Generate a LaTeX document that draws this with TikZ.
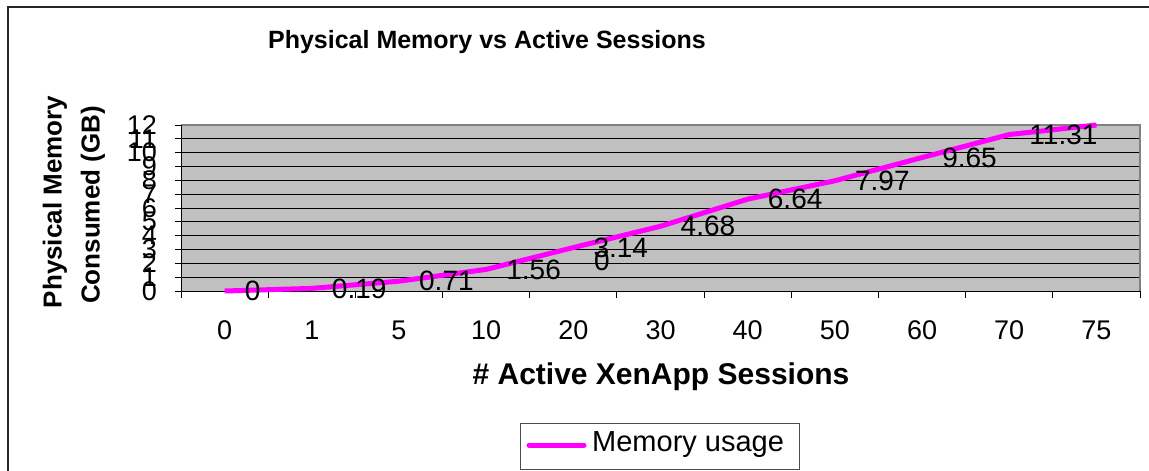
\documentclass[tikz,border=0pt]{standalone}
\usepackage{fontspec}
\setmainfont{Liberation Sans}
\definecolor{plotbg}{HTML}{C0C0C0}
\definecolor{framegray}{HTML}{808080}
\definecolor{series}{HTML}{FF00FF}
\begin{document}
\begin{tikzpicture}[x=1pt,y=-1pt,
  ticklbl/.style={font=\fontsize{27}{27}\selectfont, inner sep=0pt},
  dlabel/.style={font=\fontsize{28}{28}\selectfont, anchor=west, inner sep=0pt},
  gridln/.style={black, line width=0.9pt},
  serline/.style={draw=series, line width=5pt, line join=round},
  boldtitle/.style={font=\bfseries\fontsize{25}{25}\selectfont, inner sep=0pt}]
\useasboundingbox (0,0) rectangle (1149,471);
% chart frame (partly visible)
\draw[line width=2pt, black!85] (8,471) -- (8,7) -- (1149,7);
% title
\node[boldtitle] (title) at (487,42) {Physical Memory vs Active Sessions};
% plot area
\fill[plotbg] (181,125) rectangle (1140,291);
\foreach \i in {1,...,11} {
  \draw[gridln] (181,{291-\i*13.8333}) -- (1140,{291-\i*13.8333});
}
\draw[framegray, line width=1.2pt] (181,125) -- (1140,125) -- (1140,291);
% y axis
\draw[black, line width=1pt] (181,125) -- (181,291);
\foreach \i in {0,...,12} {
  \draw[black, line width=1pt] (175,{291-\i*13.8333}) -- (181,{291-\i*13.8333});
  \node[ticklbl, anchor=east] (yl\i) at (157,{291-\i*13.8333}) {\i};
}
% x axis
\draw[black, line width=1pt] (181,291) -- (1140,291);
\foreach \i in {0,...,11} {
  \draw[black, line width=1pt] ({181+\i*87.1818},291) -- ({181+\i*87.1818},298);
}
\foreach \lbl [count=\k from 0] in {0,1,5,10,20,30,40,50,60,70,75} {
  \node[ticklbl] (xl\k) at ({224.6+\k*87.1818},330) {\lbl};
}
% data points
\foreach \v [count=\k from 0] in {0,0.19,0.71,1.56,3.14,4.68,6.64,7.97,9.65,11.31,12} {
  \coordinate (p\k) at ({224.6+\k*87.1818},{291-\v*13.8333});
}
\draw[serline] (p0) -- (p1) -- (p2) -- (p3) -- (p4) -- (p5) -- (p6) -- (p7) -- (p8) -- (p9) -- (p10);
% data labels
\foreach \v [count=\k from 0] in {0,0.19,0.71,1.56,3.14,4.68,6.64,7.97,9.65,11.31} {
  \node[dlabel] (d\k) at ([xshift=20pt]p\k) {\v};
}
\node[dlabel] (dextra) at (594,261) {0};
% axis titles
\node[boldtitle, font=\bfseries\fontsize{30}{30}\selectfont] (xtitle) at (661,377) {\# Active XenApp Sessions};
\node[boldtitle, font=\bfseries\fontsize{26}{26}\selectfont, rotate=90] (ytitle1) at (55,202) {Physical Memory};
\node[boldtitle, font=\bfseries\fontsize{26}{26}\selectfont, rotate=90] (ytitle2) at (93,205) {Consumed (GB)};
% legend
\node[draw=black!70, line width=1pt, minimum width=279pt, minimum height=46pt, inner sep=0pt] (legend) at (659.5,446) {};
\coordinate (ls) at (529,445);
\coordinate (le) at (584,445);
\draw[serline, line cap=round] (ls) -- (le);
\node[font=\fontsize{29}{29}\selectfont, anchor=west, inner sep=0pt] (legtext) at (592,445) {Memory usage};
\end{tikzpicture}
\end{document}
